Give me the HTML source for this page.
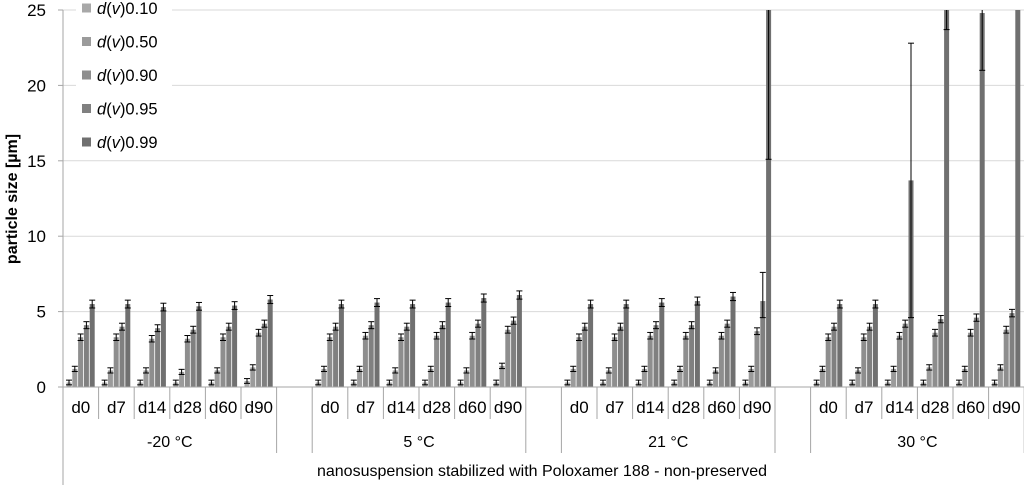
<!DOCTYPE html>
<html><head><meta charset="utf-8"><style>
body{margin:0;background:#fff}
svg text{font-family:"Liberation Sans",Arial,sans-serif;fill:#000}
</style></head><body>
<svg id="s" width="1024" height="485" xmlns="http://www.w3.org/2000/svg"></svg>
<script>
const s=document.getElementById('s');let h='';
const y0=387,k=15.08,X0=63,cw=35.6;
const Y=v=>y0-v*k;
h+='<defs><clipPath id="c"><rect x="60" y="10" width="970" height="380"/></clipPath></defs>';
for(let v=5;v<=25;v+=5)h+=`<line x1="63" x2="1024" y1="${Y(v)}" y2="${Y(v)}" stroke="#d9d9d9" stroke-width="1"/>`;
for(let v=0;v<=25;v+=5){h+=`<text x="46" y="${Y(v)+6}" font-size="17" text-anchor="end">${v}</text><line x1="58" x2="63" y1="${Y(v)}" y2="${Y(v)}" stroke="#a6a6a6"/>`;}
h+=`<text transform="translate(17,199) rotate(-90)" font-size="16" font-weight="bold" text-anchor="middle">particle size [µm]</text>`;
const col=['#a8a8a8','#9b9b9b','#8e8e8e','#808080','#707070'];
const temps=[
[[0.3,1.2,3.3,4.1,5.5],[0.3,1.1,3.3,4.0,5.5],[0.3,1.1,3.2,3.9,5.3],[0.3,1.0,3.2,3.8,5.35],[0.3,1.1,3.3,4.0,5.4],[0.4,1.3,3.6,4.2,5.8]],
[[0.3,1.2,3.3,4.0,5.5],[0.3,1.2,3.4,4.1,5.6],[0.3,1.1,3.3,4.0,5.5],[0.3,1.2,3.4,4.1,5.6],[0.3,1.1,3.4,4.2,5.9],[0.3,1.4,3.8,4.4,6.1]],
[[0.3,1.2,3.3,4.0,5.5],[0.3,1.1,3.3,4.0,5.5],[0.3,1.2,3.4,4.1,5.6],[0.3,1.2,3.4,4.1,5.7],[0.3,1.1,3.4,4.2,6.0],[0.3,1.2,3.7,5.7,40]],
[[0.3,1.2,3.3,4.0,5.5],[0.3,1.1,3.3,4.0,5.5],[0.3,1.2,3.4,4.2,13.7],[0.3,1.3,3.6,4.5,40],[0.3,1.2,3.6,4.6,24.8],[0.3,1.3,3.8,4.9,40]]];
const big={'2,5,3':[4.6,7.6],'2,5,4':[15.1,40],'3,2,4':[4.6,22.8],'3,3,4':[23.7,40],'3,4,4':[21,40]};
const days=['d0','d7','d14','d28','d60','d90'],tn=['-20 °C','5 °C','21 °C','30 °C'];
let bars='';
temps.forEach((g,t)=>{g.forEach((d,i)=>{const cx=X0+(t*7+i)*cw;
 d.forEach((v,j)=>{const bx=cx+3.5+j*5.8;bars+=`<rect x="${bx}" y="${Y(v)}" width="5" height="${v*k}" fill="${col[j]}"/>`;
  const e=big[t+','+i+','+j]||[v-0.15-0.02*v,v+0.15+0.02*v];const m=bx+2.5;
  bars+=`<line x1="${m}" x2="${m}" y1="${Y(e[0])}" y2="${Y(e[1])}" stroke="#000" stroke-width="1"/>`;
  [e[0],e[1]].forEach(q=>{if(q<26)bars+=`<line x1="${m-3}" x2="${m+3}" y1="${Y(q)}" y2="${Y(q)}" stroke="#000" stroke-width="1"/>`;});
 });
 h+=`<text x="${cx+cw/2}" y="413" font-size="17" text-anchor="middle">${days[i]}</text>`;
 if(i>0)h+=`<line x1="${cx}" x2="${cx}" y1="387" y2="419" stroke="#a6a6a6"/>`;
});
const gx=X0+t*7*cw;
h+=`<text x="${gx+3*cw}" y="447" font-size="16" text-anchor="middle">${tn[t]}</text>`;
h+=`<line x1="${gx}" x2="${gx}" y1="387" y2="453" stroke="#a6a6a6"/><line x1="${gx+6*cw}" x2="${gx+6*cw}" y1="387" y2="453" stroke="#a6a6a6"/>`;
});
h+=`<g clip-path="url(#c)">${bars}</g>`;
h+=`<line x1="63" x2="1024" y1="387" y2="387" stroke="#a6a6a6"/><line x1="63" x2="63" y1="10" y2="485" stroke="#a6a6a6"/>`;
h+=`<text x="542" y="476" font-size="16" text-anchor="middle">nanosuspension stabilized with Poloxamer 188 - non-preserved</text>`;
h+=`<rect x="76" y="0" width="96" height="158" fill="#fff"/>`;
['0.10','0.50','0.90','0.95','0.99'].forEach((l,j)=>{const ly=8+j*33.5;
 h+=`<rect x="82" y="${ly-4.5}" width="9" height="9" fill="${col[j]}"/><text x="97" y="${ly+6}" font-size="16.5"><tspan font-style="italic">d</tspan>(<tspan font-style="italic">v</tspan>)${l}</text>`;});
s.innerHTML=h;
</script>
</body></html>
